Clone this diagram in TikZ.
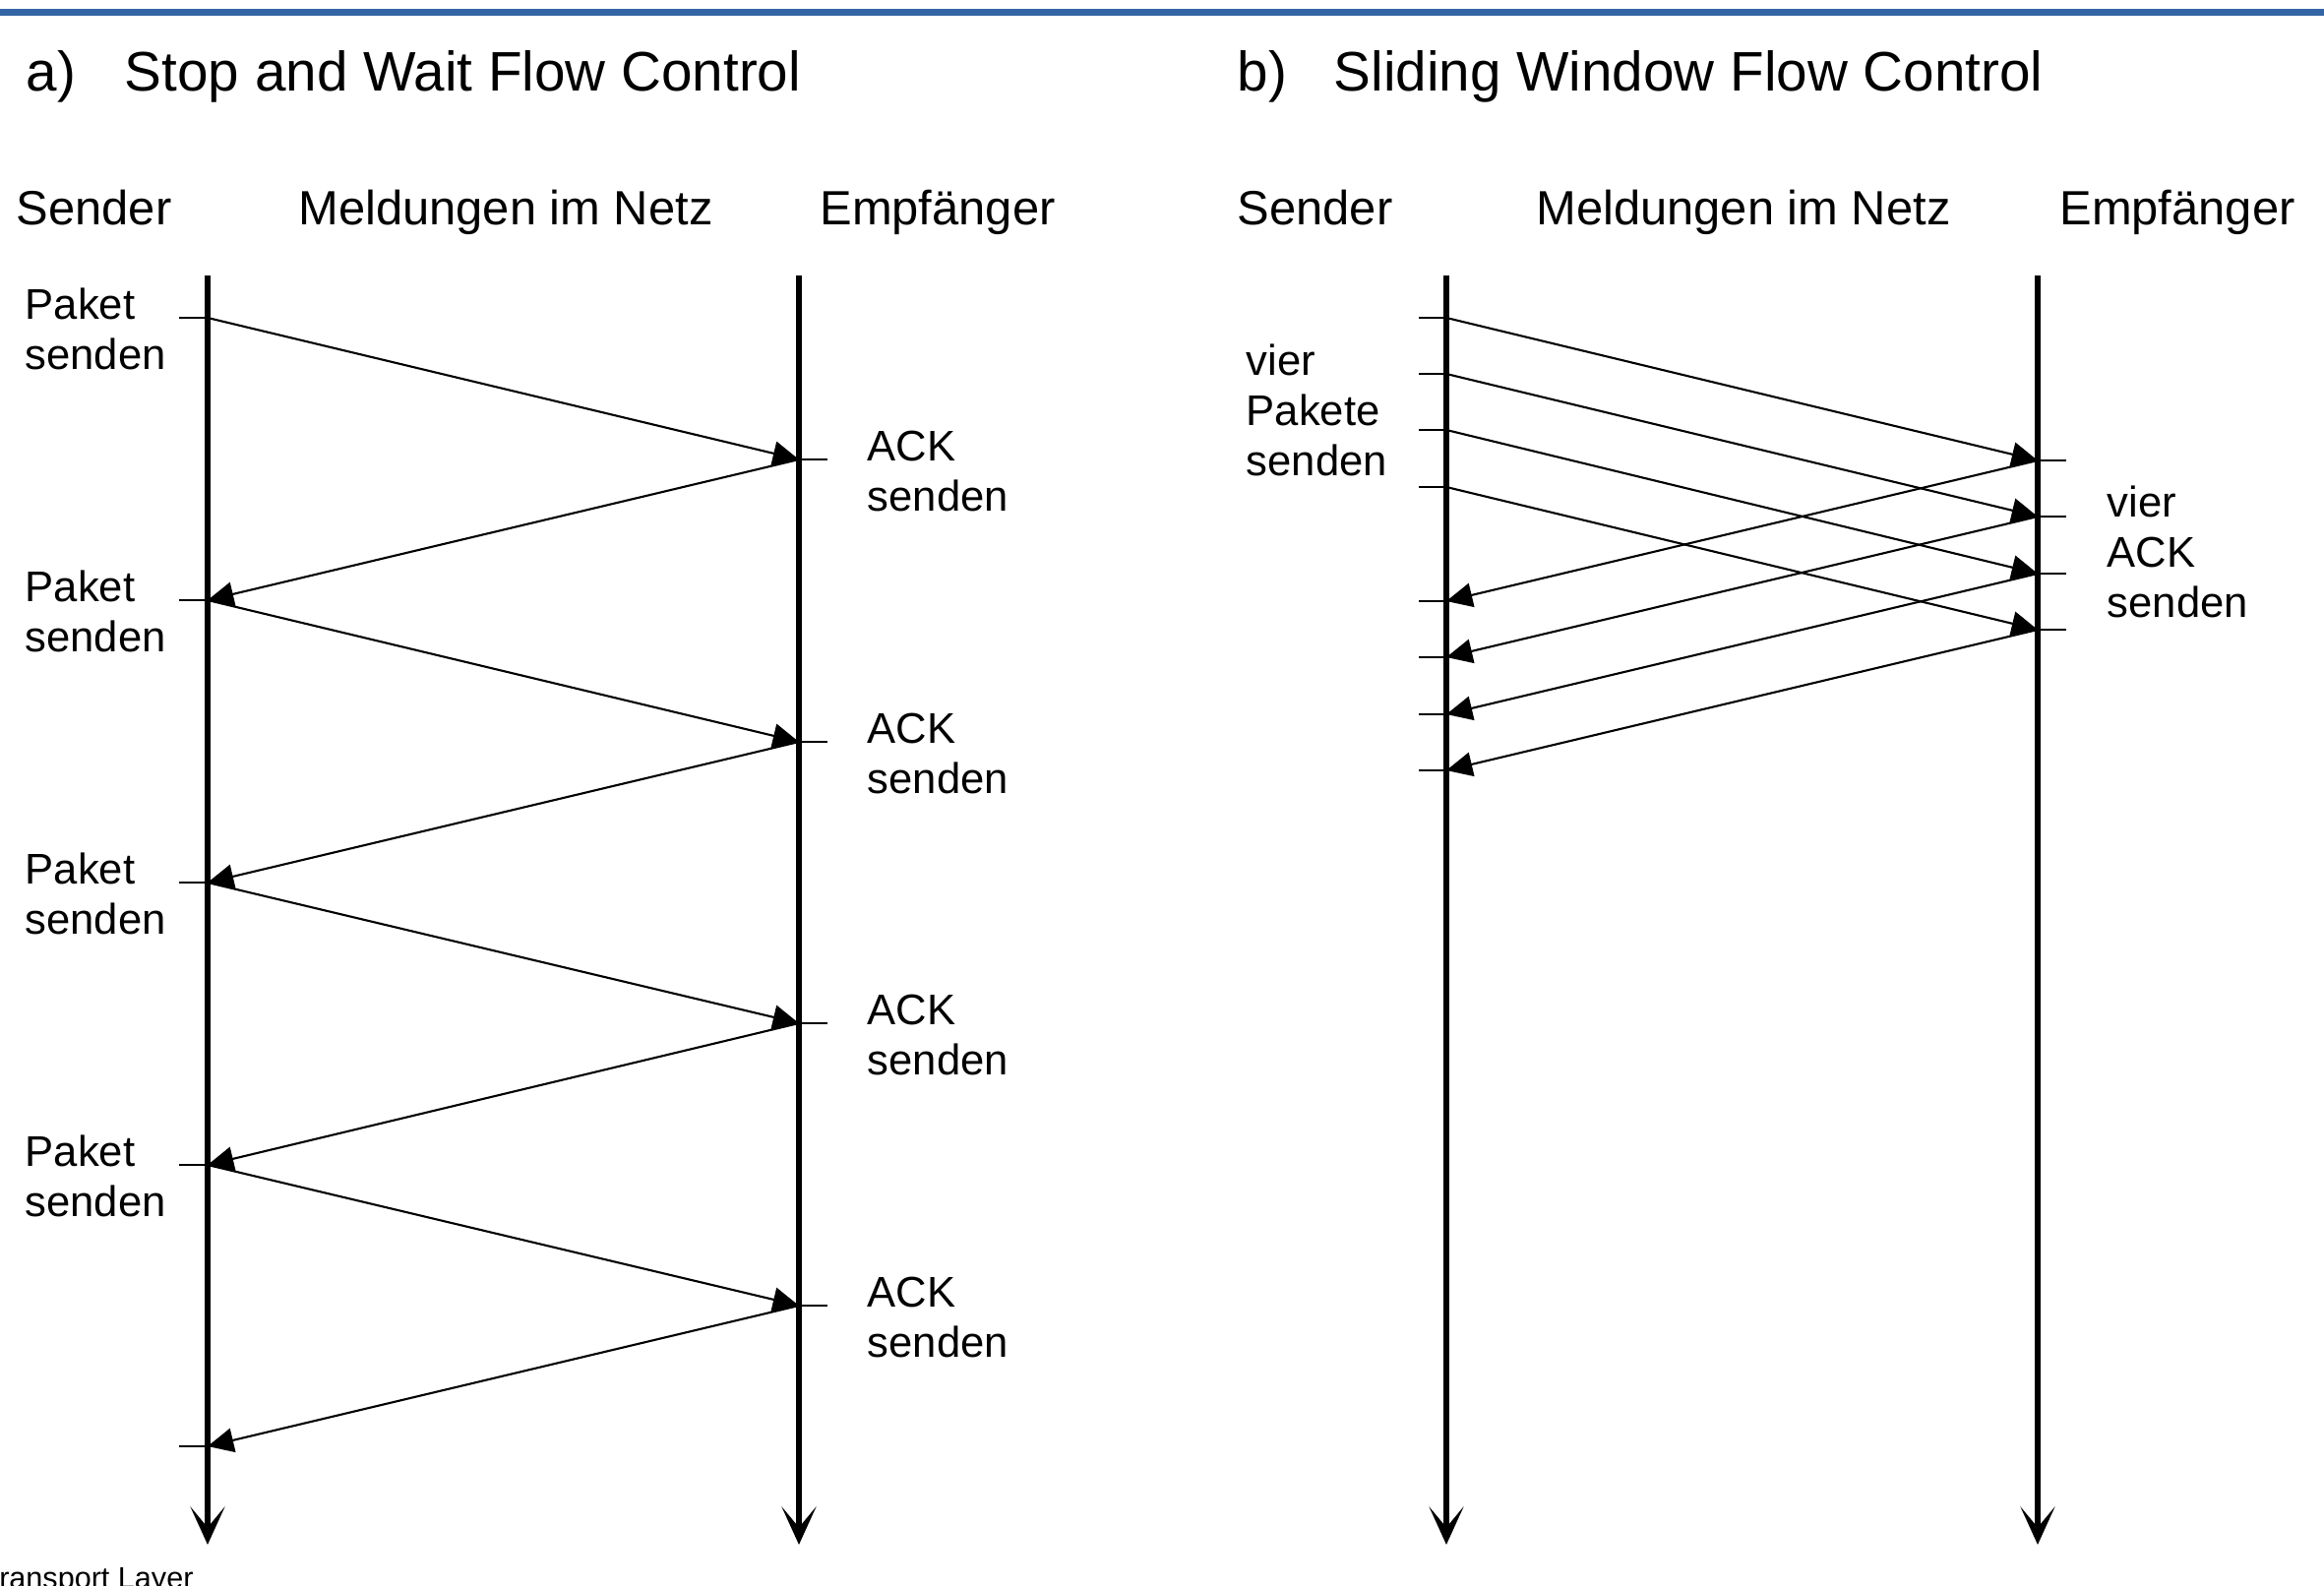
\documentclass[tikz,border=0pt]{standalone}
\usepackage{fontspec}
\setmainfont{Liberation Sans}
\usepackage{tikz}
\usetikzlibrary{arrows.meta,positioning,calc}
\definecolor{barblue}{RGB}{52,101,164}
\tikzstyle{TITLE} = [inner sep=0pt, anchor=base west, font=\fontsize{16.1}{19}\selectfont]
\tikzstyle{HEADER} = [inner sep=0pt, anchor=base, font=\fontsize{13.9}{16}\selectfont]
\tikzstyle{LABEL} = [inner sep=0pt, anchor=base west, align=left, font=\fontsize{12.4}{14.5}\selectfont]
\tikzstyle{FOOT} = [inner sep=0pt, anchor=base west, font=\fontsize{8.7}{10}\selectfont]
\tikzstyle{LIFELINE} = [draw, line width=1.8pt, -{Stealth[length=11pt,width=10pt,inset=6pt]}]
\tikzstyle{MSG} = [draw, line width=0.6pt, -{Triangle[length=7.5pt,width=7pt]}]
\tikzstyle{TICK} = [draw, line width=0.5pt]

\begin{document}
\begin{tikzpicture}[x=0.01cm, y=-0.01cm]
\clip (0,0) rectangle (2362,1611);
% Define
\fill [barblue] (0,9) rectangle (2362,16);
% Place nodes
\node [TITLE] (titleA) at (26,92) {a)\hspace{14.2pt}Stop and Wait Flow Control};
\node [TITLE] (titleB) at (1257,92) {b)\hspace{13.6pt}Sliding Window Flow Control};
\node [HEADER, anchor=base west] (senderA) at (16,228) {Sender};
\node [HEADER] (netA) at (514,228) {Meldungen im Netz};
\node [HEADER] (empfA) at (953,228) {Empf\"anger};
\node [HEADER, anchor=base west] (senderB) at (1257,228) {Sender};
\node [HEADER] (netB) at (1772,228) {Meldungen im Netz};
\node [HEADER] (empfB) at (2213,228) {Empf\"anger};
\node [FOOT] (footer) at (-19,1614) {Transport Layer};
% lifelines a)
\coordinate (sA_top) at (211,280);
\coordinate (sA_end) at (211,1570);
\coordinate (rA_top) at (812,280);
\coordinate (rA_end) at (812,1570);
% lifelines b)
\coordinate (sB_top) at (1470,280);
\coordinate (sB_end) at (1470,1570);
\coordinate (rB_top) at (2071,280);
\coordinate (rB_end) at (2071,1570);
% events a)
\coordinate (P1) at (211,323);
\coordinate (P2) at (211,610);
\coordinate (P3) at (211,897);
\coordinate (P4) at (211,1184);
\coordinate (P5) at (211,1470);
\coordinate (A1) at (812,467);
\coordinate (A2) at (812,754);
\coordinate (A3) at (812,1040);
\coordinate (A4) at (812,1327);
% events b)
\coordinate (Q1) at (1470,323);
\coordinate (Q2) at (1470,380);
\coordinate (Q3) at (1470,437);
\coordinate (Q4) at (1470,495);
\coordinate (B1) at (2071,468);
\coordinate (B2) at (2071,525);
\coordinate (B3) at (2071,583);
\coordinate (B4) at (2071,640);
\coordinate (C1) at (1470,611);
\coordinate (C2) at (1470,668);
\coordinate (C3) at (1470,726);
\coordinate (C4) at (1470,783);
% labels (base = last line)
\node [LABEL] (paket1) at (25,375) {Paket\\senden};
\node [LABEL] (paket2) at (25,662) {Paket\\senden};
\node [LABEL] (paket3) at (25,949) {Paket\\senden};
\node [LABEL] (paket4) at (25,1236) {Paket\\senden};
\node [LABEL] (ack1) at (881,519) {ACK\\senden};
\node [LABEL] (ack2) at (881,806) {ACK\\senden};
\node [LABEL] (ack3) at (881,1092) {ACK\\senden};
\node [LABEL] (ack4) at (881,1379) {ACK\\senden};
\node [LABEL] (vierP) at (1266,483) {vier\\Pakete\\senden};
\node [LABEL] (vierA) at (2141,627) {vier\\ACK\\senden};
% LINES and ARROWS
\path [LIFELINE] (sA_top) -- (sA_end);
\path [LIFELINE] (rA_top) -- (rA_end);
\path [LIFELINE] (sB_top) -- (sB_end);
\path [LIFELINE] (rB_top) -- (rB_end);
\path [TICK] (P1) -- ++(-29,0);
\path [TICK] (P2) -- ++(-29,0);
\path [TICK] (P3) -- ++(-29,0);
\path [TICK] (P4) -- ++(-29,0);
\path [TICK] (P5) -- ++(-29,0);
\path [TICK] (A1) -- ++(29,0);
\path [TICK] (A2) -- ++(29,0);
\path [TICK] (A3) -- ++(29,0);
\path [TICK] (A4) -- ++(29,0);
\path [MSG] (P1) -- (A1);
\path [MSG] (A1) -- (P2);
\path [MSG] (P2) -- (A2);
\path [MSG] (A2) -- (P3);
\path [MSG] (P3) -- (A3);
\path [MSG] (A3) -- (P4);
\path [MSG] (P4) -- (A4);
\path [MSG] (A4) -- (P5);
\path [TICK] (Q1) -- ++(-28,0);
\path [TICK] (Q2) -- ++(-28,0);
\path [TICK] (Q3) -- ++(-28,0);
\path [TICK] (Q4) -- ++(-28,0);
\path [TICK] (C1) -- ++(-28,0);
\path [TICK] (C2) -- ++(-28,0);
\path [TICK] (C3) -- ++(-28,0);
\path [TICK] (C4) -- ++(-28,0);
\path [TICK] (B1) -- ++(29,0);
\path [TICK] (B2) -- ++(29,0);
\path [TICK] (B3) -- ++(29,0);
\path [TICK] (B4) -- ++(29,0);
\path [MSG] (Q1) -- (B1);
\path [MSG] (Q2) -- (B2);
\path [MSG] (Q3) -- (B3);
\path [MSG] (Q4) -- (B4);
\path [MSG] (B1) -- (C1);
\path [MSG] (B2) -- (C2);
\path [MSG] (B3) -- (C3);
\path [MSG] (B4) -- (C4);
\end{tikzpicture}
\end{document}
